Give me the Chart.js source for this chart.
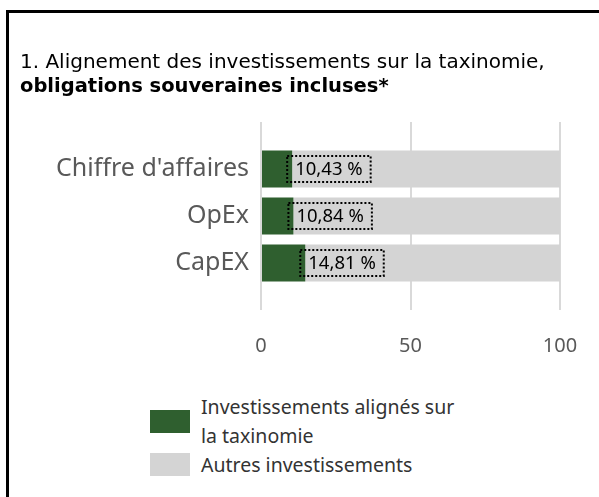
<!DOCTYPE html>
<html lang="fr">
<head>
<meta charset="utf-8">
<script src="https://cdn.jsdelivr.net/npm/chart.js@4.4.0/dist/chart.umd.min.js"></script>
<style>
  html, body { margin: 0; padding: 0; background: #fff; overflow: hidden; }
  body { width: 599px; height: 497px; position: relative; }
  #frame { position: absolute; left: 6px; top: 10px; width: 700px; height: 600px;
           border: 3px solid #000; box-sizing: border-box; }
  #wrap { position: absolute; left: 0; top: 0; width: 599px; height: 380px; }
  #legend { position: absolute; left: 150px; top: 392px; font-family: "Noto Sans", sans-serif;
            font-size: 19.5px; color: #333; line-height: 29px; }
  .item { display: flex; align-items: center; }
  .swatch { width: 40px; height: 23px; margin-right: 11px; flex: none; }
  .txt { width: 258px; }
</style>
</head>
<body>
<div id="frame"></div>
<div id="wrap"><canvas id="myChart"></canvas></div>
<div id="legend"></div>
<script>
// categories and values (%)
var categories = ["Chiffre d'affaires", "OpEx", "CapEX"];
var aligned = [10.43, 10.84, 14.81];
var others = [89.57, 89.16, 85.19];
var seriesNames = ["Investissements alignés sur la taxinomie", "Autres investissements"];
var xTicks = [0, 50, 100];

var green = '#2f5f2f';
var grey = '#d4d4d4';

function fmt(v) {
    return v.toFixed(2).replace('.', ',') + ' %';
}

// value boxes with dotted outline, only on the aligned series
const valueLabels = {
    id: 'valueLabels',
    afterDatasetsDraw(chart) {
        const ctx = chart.ctx;
        const meta = chart.getDatasetMeta(0);
        ctx.save();
        ctx.font = '18.5px "Noto Sans", sans-serif';
        ctx.textBaseline = 'middle';
        ctx.textAlign = 'left';
        meta.data.forEach((bar, i) => {
            const text = fmt(aligned[i]);
            const w = ctx.measureText(text).width;
            const x0 = bar.x - 5;
            const h = 26;
            ctx.setLineDash([2, 2]);
            ctx.lineWidth = 2;
            ctx.strokeStyle = '#000';
            ctx.strokeRect(x0, bar.y - h / 2, w + 16, h);
            ctx.fillStyle = '#000';
            ctx.fillText(text, bar.x + 3, bar.y + 1);
        });
        ctx.restore();
    }
};

var data1 = {
    datasets: [{
        label: seriesNames[0],
        data: aligned.map((v, i) => ({ x: v, y: i })),
        backgroundColor: green
    }, {
        label: seriesNames[1],
        data: others.map((v, i) => ({ x: v, y: i })),
        backgroundColor: grey
    }]
};

const config1 = {
    type: 'bar',
    data: data1,
    plugins: [valueLabels],
    options: {
        indexAxis: 'y',
        responsive: true,
        maintainAspectRatio: false,
        animation: false,
        categoryPercentage: 1,
        barPercentage: 0.79,
        layout: { padding: { left: 20, right: 39, top: 0, bottom: 0 } },
        plugins: {
            legend: { display: false },
            tooltip: { enabled: false },
            title: {
                display: true,
                align: 'start',
                text: '1. Alignement des investissements sur la taxinomie,',
                color: '#000',
                font: { family: 'DejaVu Sans', size: 20, weight: 'normal', lineHeight: 1.2 },
                padding: { top: 51, bottom: 0 }
            },
            subtitle: {
                display: true,
                align: 'start',
                text: 'obligations souveraines incluses*',
                color: '#000',
                font: { family: 'DejaVu Sans', size: 19.5, weight: 'bold', lineHeight: 1.23 },
                padding: { top: 0, bottom: 23 }
            }
        },
        scales: {
            x: {
                stacked: true,
                min: 0,
                max: 100,
                afterBuildTicks: (scale) => { scale.ticks = xTicks.map(v => ({ value: v })); },
                afterFit: (scale) => { scale.height = 70; scale.paddingLeft = 0; scale.paddingRight = 0; },
                grid: { color: '#d9d9d9', lineWidth: 2, drawTicks: false },
                border: { display: false },
                ticks: {
                    color: '#595959',
                    padding: 24,
                    font: { family: 'Noto Sans', size: 20 }
                }
            },
            y: {
                type: 'linear',
                stacked: true,
                reverse: true,
                offset: false,
                min: -1,
                max: 3,
                afterFit: (scale) => { scale.width = 241; scale.paddingTop = 0; scale.paddingBottom = 0; },
                grid: { display: false, drawTicks: false },
                border: { display: false },
                ticks: {
                    stepSize: 1,
                    autoSkip: false,
                    color: '#595959',
                    padding: 12,
                    font: { family: 'Noto Sans', size: 25 },
                    callback: (v) => categories[v] !== undefined ? categories[v] : ''
                }
            }
        }
    }
};

var ctx1 = document.getElementById('myChart').getContext('2d');
const chart1 = new Chart(ctx1, config1);

// legend built from the datasets, text wraps onto two lines
var legendEl = document.getElementById('legend');
chart1.data.datasets.forEach(ds => {
    var row = document.createElement('div');
    row.className = 'item';
    var sw = document.createElement('span');
    sw.className = 'swatch';
    sw.style.background = ds.backgroundColor;
    var t = document.createElement('span');
    t.className = 'txt';
    t.textContent = ds.label;
    row.appendChild(sw);
    row.appendChild(t);
    legendEl.appendChild(row);
});
</script>
</body>
</html>
